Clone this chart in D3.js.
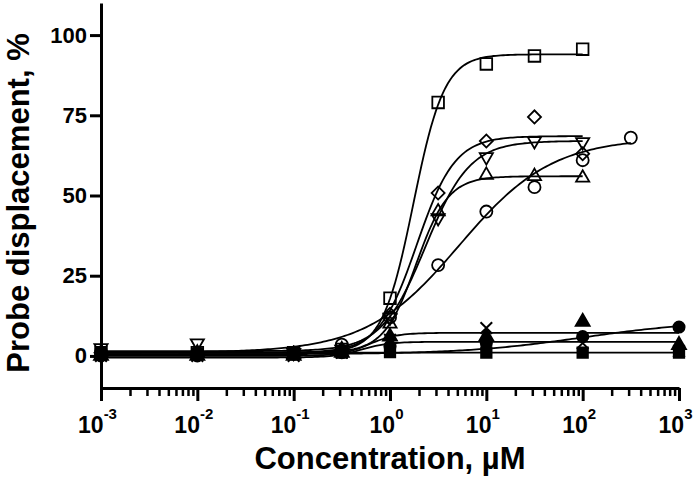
<!DOCTYPE html>
<html>
<head>
<meta charset="utf-8">
<script src="https://cdn.jsdelivr.net/npm/d3@7"></script>
<style>
  body { margin: 0; background: #fff; }
  svg { font-family: "Liberation Sans", Arial, sans-serif; font-weight: bold; }
</style>
</head>
<body>
<div class="chart"></div>
<script>
// concentrations (µM) at which each group was measured
var concOpen = [0.001, 0.01, 0.1, 0.316, 1, 3.16, 10, 31.6, 100];
var concCircle = [0.001, 0.01, 0.1, 0.316, 1, 3.16, 10, 31.6, 100, 316];
var concFilled = [0.001, 0.01, 0.1, 0.316, 1, 10, 100, 1000];

// probe displacement, %
var squareOpen = [1, 1, 1, 2, 18, 79, 91, 93.5, 95.6];
var diamondOpen = [1, 1, 1, 2, 13, 50.8, 67, 74.5, 63];
var triDownOpen = [2.5, 4, 1, 2, 12, 43, 62, 67, 66.7];
var triUpOpen = [1, 1, 0.5, 2, 10, 45, 56.4, 56, 55.5];
var circleOpen = [1, 1, 1, 3.5, 12, 28.3, 45, 52.6, 61, 68];
var squareFilled = [0.5, 0.5, 1, 1, 1.2, 1, 1, 1];
var triangleFilled = [0, 0, 0, 1, 6, 6, 10.6, 3.4];
var circleFilled = [0, 0, 0.5, 1, 3, 4, 6, 9];
var crossVals = [0, 0, 0, 1, 5, 8.7, 4, 1.5];

// sigmoid fits: [bottom, top, logEC50, hill]
var fitSquare = [1, 94, 0.243, 2.7];
var fitDiamond = [1, 68.5, 0.279, 2.2];
var fitTriDown = [1.5, 67, 0.371, 1.9];
var fitTriUp = [1, 56, 0.27, 2.6];
var fitCircle = [1, 68, 0.72, 0.9];
var fitSquareFilled = [1, 1, 0, 1];
var fitTriangleFilled = [0, 7.2, -0.22, 3];
var fitCross = [-0.5, 4.4, -0.3, 3];
var fitCircleFilled = [0.5, 11, 2, 0.7];

var xTickExp = [-3, -2, -1, 0, 1, 2, 3];
var yTicks = [0, 25, 50, 75, 100];

var cfg = {
    w: 700,
    h: 481,
    left: 101,
    right: 679,
    top: 3,
    bottom: 388
};

var series = [
    { conc: concFilled, vals: squareFilled, fit: fitSquareFilled, sym: 'square', filled: true },
    { conc: concFilled, vals: crossVals, fit: fitCross, sym: 'x', filled: false },
    { conc: concFilled, vals: triangleFilled, fit: fitTriangleFilled, sym: 'triUp', filled: true },
    { conc: concFilled, vals: circleFilled, fit: fitCircleFilled, sym: 'circle', filled: true },
    { conc: concCircle, vals: circleOpen, fit: fitCircle, sym: 'circle', filled: false },
    { conc: concOpen, vals: triUpOpen, fit: fitTriUp, sym: 'triUp', filled: false },
    { conc: concOpen, vals: triDownOpen, fit: fitTriDown, sym: 'triDown', filled: false },
    { conc: concOpen, vals: diamondOpen, fit: fitDiamond, sym: 'diamond', filled: false },
    { conc: concOpen, vals: squareOpen, fit: fitSquare, sym: 'square', filled: false }
];

var xScale = d3.scaleLog().domain([1e-3, 1e3]).range([cfg.left, cfg.right]);
var yScale = d3.scaleLinear().domain([-10, 110]).range([cfg.bottom, cfg.top]);

var svg = d3.select('.chart').append('svg')
    .attr('width', cfg.w)
    .attr('height', cfg.h);

var sigmoid = function (p, x) {
    return p[0] + (p[1] - p[0]) / (1 + Math.pow(10, (p[2] - Math.log10(x)) * p[3]));
};

var line = d3.line()
    .x(function (d) { return xScale(d[0]); })
    .y(function (d) { return yScale(d[1]); });

// fitted curves
series.forEach(function (s) {
    var lo = Math.log10(s.conc[0]);
    var hi = Math.log10(s.conc[s.conc.length - 1]);
    var pts = d3.range(0, 201).map(function (i) {
        var x = Math.pow(10, lo + (hi - lo) * i / 200);
        return [x, sigmoid(s.fit, x)];
    });
    svg.append('path')
        .attr('d', line(pts))
        .attr('fill', 'none')
        .attr('stroke', '#000')
        .attr('stroke-width', 1.8);
});

var markerPath = function (sym, filled) {
    if (sym === 'square') return d3.symbol().type(d3.symbolSquare).size(filled ? 110 : 135)();
    if (sym === 'diamond') return d3.symbol().type(d3.symbolSquare).size(85)();
    if (sym === 'circle') return d3.symbol().type(d3.symbolCircle).size(filled ? 100 : 115)();
    if (sym === 'x') return d3.symbol().type(d3.symbolTimes || d3.symbolX).size(90)();
    return d3.symbol().type(d3.symbolTriangle).size(filled ? 85 : 75)();
};

var markerRot = { diamond: 45, triDown: 180 };

// data points
series.forEach(function (s) {
    svg.append('g').selectAll('path')
        .data(s.conc.map(function (c, i) { return [c, s.vals[i]]; }))
        .enter()
        .append('path')
        .attr('d', markerPath(s.sym, s.filled))
        .attr('transform', function (d) {
            return 'translate(' + xScale(d[0]) + ',' + yScale(d[1]) + ') rotate(' + (markerRot[s.sym] || 0) + ')';
        })
        .attr('fill', s.filled ? '#000' : 'none')
        .attr('stroke', '#000')
        .attr('stroke-width', s.sym === 'x' ? 2 : 1.8);
});

// axes
var yAxis = d3.axisLeft(yScale).tickValues(yTicks).tickSize(11).tickSizeOuter(0).tickPadding(3);
var gy = svg.append('g')
    .attr('transform', 'translate(' + cfg.left + ',0)')
    .call(yAxis);
gy.selectAll('path, line').attr('stroke', '#000').attr('stroke-width', 3);
gy.selectAll('text').attr('font-size', 22).attr('font-family', null).attr('fill', '#000');

var minorTicks = [];
xTickExp.slice(0, -1).forEach(function (e) {
    for (var k = 2; k <= 9; k++) minorTicks.push(k * Math.pow(10, e));
});

var gxMinor = svg.append('g')
    .attr('transform', 'translate(0,' + cfg.bottom + ')')
    .call(d3.axisBottom(xScale).tickValues(minorTicks).tickSize(8).tickFormat(''));
gxMinor.select('.domain').remove();
gxMinor.selectAll('line').attr('stroke', '#000').attr('stroke-width', 2.5);

var xAxis = d3.axisBottom(xScale)
    .tickValues(xTickExp.map(function (e) { return Math.pow(10, e); }))
    .tickSize(13)
    .tickSizeOuter(0)
    .tickPadding(12);
var gx = svg.append('g')
    .attr('transform', 'translate(0,' + cfg.bottom + ')')
    .call(xAxis);
gx.selectAll('path, line').attr('stroke', '#000').attr('stroke-width', 3);
gx.selectAll('text')
    .attr('font-family', null)
    .attr('font-size', 23)
    .attr('fill', '#000')
    .attr('dy', null)
    .attr('y', 45)
    .attr('dx', -4)
    .each(function (d) {
        var t = d3.select(this);
        t.text('');
        t.append('tspan').text('10');
        t.append('tspan').attr('font-size', 15).attr('dy', -14).text(Math.round(Math.log10(d)));
    });

// axis titles
svg.append('text')
    .attr('x', (cfg.left + cfg.right) / 2)
    .attr('y', 469)
    .attr('text-anchor', 'middle')
    .attr('font-size', 31)
    .text('Concentration, µM');

svg.append('text')
    .attr('transform', 'translate(29,203) rotate(-90)')
    .attr('text-anchor', 'middle')
    .attr('font-size', 31)
    .text('Probe displacement, %');
</script>
</body>
</html>
